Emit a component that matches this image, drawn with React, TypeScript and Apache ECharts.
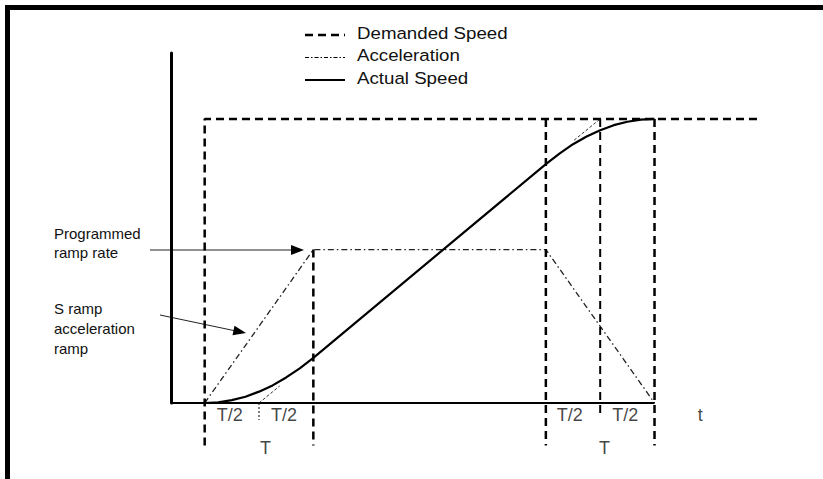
import React, { useEffect, useRef } from "react";
import * as echarts from "echarts";

// time in units of the jerk period T (t = 0 at the start of the ramp), speed as fraction of demanded speed
const demandT = [0, 0, 5.12];
const demandV = [-0.15, 1, 1];

const accelT = [0, 1, 3.14, 4.14];
const accelV = [0, 0.54, 0.54, 0];

const actualT = [
  0, 0.125, 0.25, 0.375, 0.5, 0.625, 0.75, 0.875, 1,
  3.14, 3.265, 3.39, 3.515, 3.64, 3.765, 3.89, 4.015, 4.14,
];
const actualV = [
  0, 0.0025, 0.01, 0.022, 0.04, 0.062, 0.09, 0.122, 0.159,
  0.841, 0.878, 0.911, 0.938, 0.96, 0.978, 0.99, 0.9975, 1,
];

// time axis baseline (drawn from the y axis to the end of the ramp)
const baseT = [-0.31, 4.14];
const baseV = [0, 0];

// vertical guide lines: x, top, bottom
const guideX = [1, 3.14, 3.64, 4.14, 0.5];
const guideTop = [0.54, 1, 1, 1, 0];
const guideBottom = [-0.15, -0.15, -0.035, -0.15, -0.06];

// tangent extension segments
const tangentA = [[0.5, 0], [0.69, 0.06]];
const tangentB = [[3.4, 0.925], [3.64, 1]];

// bottom labels
const labelText = ["T/2", "T/2", "T", "T/2", "T/2", "T", "t"];
const labelX = [0.23, 0.73, 0.56, 3.36, 3.87, 3.68, 4.56];
const labelY = [-0.043, -0.043, -0.158, -0.043, -0.043, -0.158, -0.043];

// legend
const legendNames = ["Demanded Speed", "Acceleration", "Actual Speed"];

const axisXMin = -0.31;
const axisXMax = 5.12;
const axisYMax = 1.232;

const FONT = "'Liberation Sans', Arial, Helvetica, sans-serif";

function zip(a: number[], b: number[]) {
  return a.map((v, i) => [v, b[i]]);
}

export default function App() {
  const ref = useRef<HTMLDivElement>(null);
  useEffect(() => {
    if (!ref.current) return;
    const chart = echarts.init(ref.current, null, { renderer: "svg" });

    const guideSeries = guideX.map((x, i) => ({
      type: "line",
      data: [
        [x, guideTop[i]],
        [x, guideBottom[i]],
      ],
      symbol: "none",
      clip: false,
      silent: true,
      lineStyle: {
        color: "#000",
        width: i === 4 ? 1 : i === 2 ? 2 : 2.5,
        type: i === 4 ? [2, 2] : [8, 5],
      },
    }));

    const legendStyles = [
      { width: 2.5, type: [8, 5] },
      { width: 1.2, type: [4, 2, 1.5, 2] },
      { width: 2.2, type: "solid" },
    ];
    const legendGraphics: any[] = [];
    legendNames.forEach((name, i) => {
      const cy = 35 + i * 22.5;
      const st = legendStyles[i];
      legendGraphics.push({
        type: "line",
        shape: { x1: 305, y1: cy, x2: 345, y2: cy },
        style: {
          stroke: "#000",
          lineWidth: st.width,
          lineDash: st.type === "solid" ? null : st.type,
        },
      });
      legendGraphics.push({
        type: "text",
        x: 357,
        y: cy - 2,
        scaleX: 1.1,
        style: {
          text: name,
          font: `17px ${FONT}`,
          fill: "#111",
          verticalAlign: "middle",
        },
      });
    });

    const option: any = {
      animation: false,
      backgroundColor: "#fff",
      grid: { left: 171, top: 53, width: 590, height: 350 },
      xAxis: {
        type: "value",
        min: axisXMin,
        max: axisXMax,
        axisLine: { show: false },
        axisTick: { show: false },
        axisLabel: { show: false },
        splitLine: { show: false },
      },
      yAxis: {
        type: "value",
        min: 0,
        max: axisYMax,
        axisLine: { show: true, onZero: false, lineStyle: { color: "#000", width: 3 } },
        axisTick: { show: false },
        axisLabel: { show: false },
        splitLine: { show: false },
      },
      series: [
        {
          type: "line",
          data: zip(baseT, baseV),
          symbol: "none",
          clip: false,
          lineStyle: { color: "#000", width: 2.2 },
          z: 5,
        },
        {
          name: "Demanded Speed",
          type: "line",
          data: zip(demandT, demandV),
          symbol: "none",
          clip: false,
          lineStyle: { color: "#000", width: 2.5, type: [8, 5] },
          z: 3,
        },
        {
          name: "Acceleration",
          type: "line",
          data: zip(accelT, accelV),
          symbol: "none",
          clip: false,
          lineStyle: { color: "#222", width: 1.3, type: [6, 3, 1.5, 3] },
          z: 2,
        },
        {
          name: "Actual Speed",
          type: "line",
          data: zip(actualT, actualV),
          symbol: "none",
          clip: false,
          lineStyle: { color: "#000", width: 2.2 },
          z: 4,
        },
        {
          type: "line",
          data: tangentA,
          symbol: "none",
          clip: false,
          lineStyle: { color: "#333", width: 1, type: [3, 2] },
        },
        {
          type: "line",
          data: tangentB,
          symbol: "none",
          clip: false,
          lineStyle: { color: "#333", width: 1, type: [3, 2] },
        },
        ...guideSeries,
        {
          type: "scatter",
          symbolSize: 0,
          clip: false,
          silent: true,
          data: labelText.map((t, i) => ({ name: t, value: [labelX[i], labelY[i]] })),
          label: {
            show: true,
            position: "inside",
            formatter: (p: any) => p.name,
            fontFamily: FONT,
            fontSize: 18,
            color: "#111",
          },
        },
      ],
      graphic: [
        {
          type: "polyline",
          shape: { points: [[7.5, 490], [7.5, 7.5], [830, 7.5]] },
          style: { stroke: "#000", lineWidth: 5, fill: null },
        },
        {
          type: "text",
          x: 15,
          y: -1,
          style: {
            text: "Figure",
            font: `bold 14px ${FONT}`,
            fill: "#000",
            verticalAlign: "bottom",
          },
        },
        ...legendGraphics,
        {
          type: "text",
          x: 54,
          y: 224,
          style: {
            text: "Programmed\nramp rate",
            font: `15px ${FONT}`,
            lineHeight: 19,
            fill: "#111",
            verticalAlign: "top",
          },
        },
        {
          type: "text",
          x: 54,
          y: 298,
          style: {
            text: "S ramp\nacceleration\nramp",
            font: `15px ${FONT}`,
            lineHeight: 20,
            fill: "#111",
            verticalAlign: "top",
          },
        },
        {
          type: "line",
          shape: { x1: 150, y1: 250, x2: 294, y2: 250 },
          style: { stroke: "#222", lineWidth: 1 },
        },
        {
          type: "polygon",
          shape: { points: [[304, 250], [291, 245], [291, 255]] },
          style: { fill: "#000" },
        },
        {
          type: "line",
          shape: { x1: 160, y1: 315, x2: 236, y2: 331 },
          style: { stroke: "#222", lineWidth: 1 },
        },
        {
          type: "polygon",
          shape: { points: [[246, 333], [232.5, 335.3], [234.5, 325.7]] },
          style: { fill: "#000" },
        },
      ],
    };

    chart.setOption(option);
    return () => chart.dispose();
  }, []);

  return (
    <div
      ref={ref}
      style={{ position: "fixed", left: 0, top: 0, width: 823, height: 479, background: "#fff" }}
    />
  );
}
